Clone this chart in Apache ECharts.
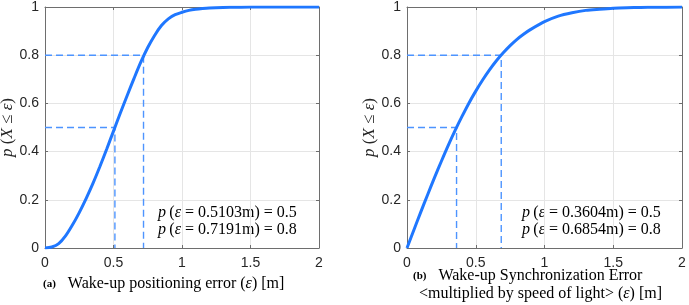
<!DOCTYPE html>
<html><head><meta charset="utf-8">
<script src="https://cdn.jsdelivr.net/npm/echarts@6/dist/echarts.min.js"></script>
<style>html,body{margin:0;padding:0;background:#fff}#c{width:689px;height:305px}</style>
</head><body><div id="c"></div>
<script>
// Panel (a): wake-up positioning error CDF
const xA = [0,0.05,0.1,0.15,0.2,0.25,0.3,0.35,0.4,0.45,0.5,0.55,0.6,0.65,0.7,0.75,0.8,0.85,0.9,0.95,1.0,1.05,1.1,1.15,1.2,1.3,1.4,1.5,1.6,1.8,2.0];
const yA = [0,0.004,0.018,0.05,0.095,0.147,0.205,0.268,0.337,0.41,0.485,0.56,0.633,0.704,0.772,0.832,0.882,0.923,0.951,0.968,0.978,0.986,0.991,0.994,0.996,0.998,0.999,1,1,1,1];
// Panel (b): wake-up synchronization error CDF
const xB = [0,0.05,0.1,0.15,0.2,0.25,0.3,0.35,0.4,0.45,0.5,0.55,0.6,0.65,0.7,0.75,0.8,0.85,0.9,1.0,1.1,1.2,1.3,1.4,1.5,1.6,1.7,1.8,2.0];
const yB = [0,0.075,0.149,0.221,0.292,0.36,0.426,0.488,0.546,0.601,0.651,0.697,0.739,0.777,0.81,0.84,0.866,0.888,0.907,0.939,0.962,0.976,0.986,0.991,0.995,0.997,0.998,0.999,1];
// Marked quantiles
const levels = [0.5, 0.8];
const qA = [0.5103, 0.7191];
const qB = [0.3604, 0.6854];
const xTicks = [0, 0.5, 1, 1.5, 2];
const yTicks = [0, 0.2, 0.4, 0.6, 0.8, 1];

const chart = echarts.init(document.getElementById('c'), null, {renderer:'canvas'});
const lineColor = '#1f77ff';
const dashColor = '#4d94ff';
const axisGray = '#6e6e6e';
const txt = '#262626';
const sans = 'Liberation Sans';
const serif = 'Liberation Serif';

function pairs(xs, ys){ return xs.map((x,i)=>[x, ys[i]]); }
function dashSeries(q, gi){
  const out = [];
  q.forEach((qx,i)=>{
    out.push({type:'line', xAxisIndex:gi*2, yAxisIndex:gi*2, symbol:'none', silent:true,
      lineStyle:{color:dashColor, width:1.4, type:[7,4]},
      data:[[0,levels[i]],[qx,levels[i]],[qx,0]], z:3});
  });
  return out;
}
function mkX(gi, bottom){
  return {type:'value', gridIndex:gi, min:0, max:2, interval:0.5, position: bottom?'bottom':'top',
    axisLine:{show:true, onZero:false, lineStyle:{color:axisGray, width:1}},
    axisTick:{show:true, inside:true, length:3, lineStyle:{color:axisGray}},
    axisLabel:{show:bottom, color:txt, fontFamily:sans, fontSize:14, margin:8,
      formatter:v=>String(v)},
    splitLine:{show:bottom, lineStyle:{color:'#e5e5e5', width:1}}};
}
function mkY(gi, left){
  return {type:'value', gridIndex:gi, min:0, max:1, interval:0.2, position: left?'left':'right',
    axisLine:{show:true, onZero:false, lineStyle:{color:axisGray, width:1}},
    axisTick:{show:true, inside:true, length:3, lineStyle:{color:axisGray}},
    axisLabel:{show:left, color:txt, fontFamily:sans, fontSize:14, margin:6,
      formatter:v=>String(Math.round(v*10)/10)},
    splitLine:{show:left, lineStyle:{color:'#e5e5e5', width:1}},
    name: left ? '{i|p}{n| (}{i|X}{n| ≤ }{i|ε}{n|)}' : '',
    nameLocation:'middle', nameRotate:90, nameGap:28,
    nameTextStyle:{rich:{i:{fontFamily:serif, fontStyle:'italic', fontSize:17, color:txt},
                         n:{fontFamily:serif, fontSize:17, color:txt}}}};
}
const annRich = {i:{fontFamily:serif, fontStyle:'italic', fontSize:16, color:'#000'},
                 n:{fontFamily:serif, fontSize:16, color:'#000'},
                 b:{fontFamily:serif, fontWeight:'bold', fontSize:11, color:'#000'}};
function ann(x, y, q, lv){
  return {type:'text', left:x, top:y, silent:true,
    style:{text:'{i|p} {n|(}{i|ε}{n| = '+q.toFixed(4)+'m) = '+lv+'}', rich:annRich, fill:'#000'}};
}

chart.setOption({
  animation:false,
  grid:[{left:45, right:370, top:7, bottom:57, show:false, containLabel:false, outerBoundsMode:'none'},
        {left:407, right:7, top:7, bottom:57, show:false, containLabel:false, outerBoundsMode:'none'}],
  xAxis:[mkX(0,true), mkX(0,false), mkX(1,true), mkX(1,false)],
  yAxis:[mkY(0,true), mkY(0,false), mkY(1,true), mkY(1,false)].map((a,i)=>{a.gridIndex=Math.floor(i/2); return a;}),
  series:[
    ...dashSeries(qA,0), ...dashSeries(qB,1),
    {type:'line', xAxisIndex:0, yAxisIndex:0, symbol:'none', smooth:0.3, data:pairs(xA,yA),
     lineStyle:{color:lineColor, width:3}, z:5},
    {type:'line', xAxisIndex:2, yAxisIndex:2, symbol:'none', smooth:0.3, data:pairs(xB,yB),
     lineStyle:{color:lineColor, width:3}, z:5}
  ],
  graphic:[
    ann(158, 205, qA[0], levels[0]), ann(158, 222, qA[1], levels[1]),
    ann(522, 205, qB[0], levels[0]), ann(522, 222, qB[1], levels[1]),
    {type:'text', left:43, top:276, silent:true,
     style:{text:'{b|(a)}{n|   Wake-up positioning error (}{i|ε}{n|) [m]}', rich:annRich}},
    {type:'text', left:413, top:268, silent:true,
     style:{text:'{b|(b)}{n|   Wake-up Synchronization Error}', rich:annRich}},
    {type:'text', left:419, top:286, silent:true,
     style:{text:'{n|<multiplied by speed of light> (}{i|ε}{n|) [m]}', rich:annRich}}
  ]
});
</script></body></html>
